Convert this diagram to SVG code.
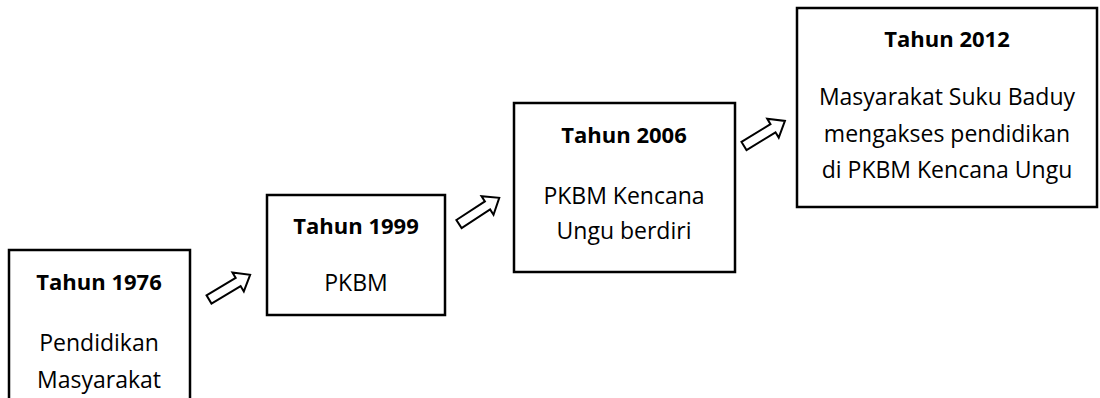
<svg xmlns="http://www.w3.org/2000/svg" width="1100" height="398" viewBox="0 0 1100 398">
<style>
.box{fill:#fff;stroke:#000;stroke-width:2.5}
.t{font-family:"Open Sans","Liberation Sans",sans-serif;font-size:22px;font-weight:bold;fill:#000;text-anchor:middle}
.b{font-family:"Open Sans","Liberation Sans",sans-serif;font-size:23px;fill:#000;text-anchor:middle}
.arr{fill:#fff;stroke:#000;stroke-width:2;stroke-linejoin:miter}
</style>
<defs>
<path id="ar" d="M0,-4.8 L34,-4.8 L34,-11 L48,0 L34,11 L34,4.8 L0,4.8 Z"/>
</defs>
<rect width="1100" height="398" fill="#fff"/>
<g id="connectors">
<use href="#ar" class="arr" transform="translate(209,299.5) rotate(-31)"/>
<use href="#ar" class="arr" transform="translate(459,224) rotate(-33)"/>
<use href="#ar" class="arr" transform="translate(744,146) rotate(-31.5)"/>
</g>
<g id="n1976">
<rect class="box" x="9" y="250" width="181" height="160"/>
<text class="t" x="99" y="290">Tahun 1976</text>
<text class="b" x="99" y="351">Pendidikan</text>
<text class="b" x="99" y="388">Masyarakat</text>
</g>
<g id="n1999">
<rect class="box" x="267" y="195" width="178" height="120"/>
<text class="t" x="356" y="234">Tahun 1999</text>
<text class="b" x="356" y="291">PKBM</text>
</g>
<g id="n2006">
<rect class="box" x="514" y="103" width="221" height="169"/>
<text class="t" x="624" y="143">Tahun 2006</text>
<text class="b" x="624" y="204">PKBM Kencana</text>
<text class="b" x="624" y="239">Ungu berdiri</text>
</g>
<g id="n2012">
<rect class="box" x="797" y="8" width="300" height="199"/>
<text class="t" x="947" y="47">Tahun 2012</text>
<text class="b" x="947" y="105">Masyarakat Suku Baduy</text>
<text class="b" x="947" y="142">mengakses pendidikan</text>
<text class="b" x="947" y="178">di PKBM Kencana Ungu</text>
</g>
</svg>
